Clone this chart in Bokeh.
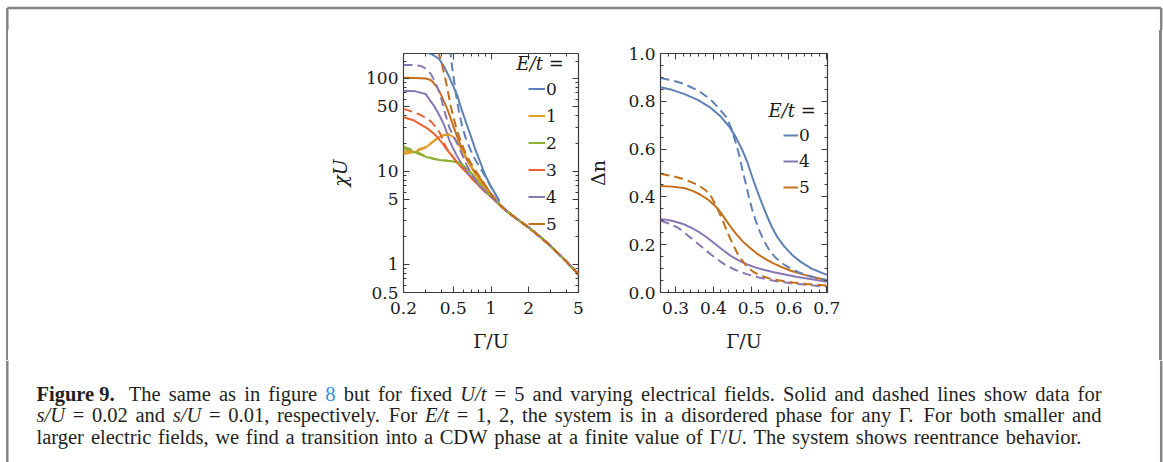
from bokeh.plotting import figure
from bokeh.layouts import column, row
from bokeh.models import (Range1d, FixedTicker, LogAxis, LinearAxis, Legend, LegendItem,
                          Label, CustomJSTickFormatter, PrintfTickFormatter, Div)
from bokeh.core.properties import value
from bokeh.embed import file_html
from bokeh.resources import INLINE

# ---------------- data: panel (a)  chi*U vs Gamma/U (log-log) ----------------
E_LABELS = ["0", "1", "2", "3", "4", "5"]
COLORS = ["#5E81B5", "#E19C24", "#8FB032", "#EB6235", "#8778B3", "#C56E1A"]

TAIL_G = [1.15, 1.3, 1.6, 2.0, 2.5, 3.0, 4.0, 5.0]
TAIL_C = [4.5, 3.85, 3.1, 2.5, 1.95, 1.58, 1.08, 0.78]

a_E0_s_g = [0.27, 0.30, 0.34, 0.383, 0.42, 0.46, 0.50, 0.537, 0.58, 0.625, 0.69, 0.752, 0.82, 0.9, 1.0, 1.15]
a_E0_s_c = [205, 192, 180, 163, 135, 106, 82, 66, 47, 35, 24, 17, 12.6, 9.1, 6.9, 5.0]
a_E0_d_g = [0.468, 0.475, 0.49, 0.505, 0.52, 0.537, 0.56, 0.59, 0.63, 0.686, 0.75, 0.824, 0.9, 1.0, 1.15]
a_E0_d_c = [210, 187, 130, 98, 73, 56, 41, 30, 22.5, 17, 13.3, 10.8, 8.8, 6.8, 4.95]

a_E1_s_g = [0.2, 0.25, 0.3, 0.34, 0.383, 0.42, 0.46, 0.50, 0.54, 0.59, 0.65, 0.71, 0.8, 0.9, 1.0]
a_E1_s_c = [15.4, 16.3, 18.0, 20.5, 23.2, 24.6, 25.0, 23.5, 20.5, 16.8, 13.2, 10.6, 8.2, 6.6, 5.6]
a_E1_d_g = [0.2, 0.25, 0.3, 0.34, 0.383, 0.42, 0.46, 0.50, 0.54, 0.59, 0.65, 0.71, 0.8, 0.9, 1.0]
a_E1_d_c = [16.2, 16.8, 18.3, 20.7, 23.3, 24.7, 25.1, 23.6, 20.6, 16.9, 13.3, 10.7, 8.2, 6.6, 5.6]

a_E2_s_g = [0.2, 0.23, 0.26, 0.3, 0.35, 0.4, 0.45, 0.5, 0.55, 0.6, 0.65, 0.7, 0.8, 0.9, 1.0]
a_E2_s_c = [17.5, 16.6, 15.6, 14.4, 13.6, 13.2, 13.0, 12.8, 12.4, 11.6, 10.5, 9.5, 7.6, 6.2, 5.4]
a_E2_d_g = [0.2, 0.23, 0.26, 0.3, 0.35, 0.4, 0.45, 0.5, 0.55, 0.6, 0.65, 0.7, 0.8, 0.9, 1.0]
a_E2_d_c = [18.5, 17.2, 16.0, 14.6, 13.7, 13.3, 13.0, 12.8, 12.4, 11.6, 10.5, 9.5, 7.6, 6.2, 5.4]

a_E3_s_g = [0.2, 0.24, 0.273, 0.31, 0.34, 0.372, 0.41, 0.446, 0.49, 0.537, 0.59, 0.644, 0.7, 0.77, 0.85, 0.9, 1.0]
a_E3_s_c = [38.2, 35.5, 32.1, 29.0, 26.3, 23.4, 20.0, 17.0, 14.6, 12.4, 10.9, 9.6, 8.5, 7.4, 6.5, 6.0, 5.35]
a_E3_d_g = [0.2, 0.24, 0.273, 0.3, 0.329, 0.36, 0.39, 0.42, 0.446, 0.49, 0.537, 0.59, 0.644, 0.7, 0.77, 0.85, 0.9, 1.0]
a_E3_d_c = [47.0, 43.5, 40.6, 37.5, 34.7, 30.5, 26.0, 20.5, 17.3, 14.7, 12.4, 10.9, 9.6, 8.5, 7.4, 6.5, 6.0, 5.35]

a_E4_s_g = [0.2, 0.25, 0.3, 0.329, 0.35, 0.372, 0.395, 0.42, 0.44, 0.465, 0.5, 0.537, 0.59, 0.644, 0.7, 0.77, 0.85, 0.9, 1.0]
a_E4_s_c = [73.7, 72.5, 68.0, 57.0, 51.0, 44.0, 38.0, 32.0, 27.0, 21.6, 17.5, 14.5, 11.8, 9.8, 8.6, 7.6, 6.6, 6.1, 5.4]
a_E4_d_g = [0.2, 0.25, 0.28, 0.309, 0.33, 0.349, 0.37, 0.395, 0.415, 0.433, 0.465, 0.5, 0.537, 0.59, 0.644, 0.7, 0.77, 0.85, 0.9, 1.0]
a_E4_d_c = [139.6, 139.0, 135.0, 124.0, 112.0, 97.5, 82.0, 65.6, 50.0, 40.6, 29.6, 24.0, 20.0, 15.0, 11.5, 9.3, 7.7, 6.6, 6.1, 5.4]

a_E5_s_g = [0.2, 0.25, 0.3, 0.33, 0.349, 0.372, 0.395, 0.42, 0.446, 0.475, 0.505, 0.545, 0.59, 0.64, 0.686, 0.75, 0.824, 0.9, 1.0]
a_E5_s_c = [101.5, 101.0, 99.5, 96.0, 89.0, 80.0, 68.5, 57.0, 47.6, 37.5, 29.6, 22.5, 17.0, 13.5, 11.5, 9.7, 8.3, 7.0, 5.75]
a_E5_d_g = [0.378, 0.383, 0.40, 0.415, 0.433, 0.455, 0.475, 0.505, 0.537, 0.58, 0.625, 0.69, 0.752, 0.824, 0.9, 1.0]
a_E5_d_c = [200, 184, 155, 124, 97.6, 70, 51.5, 36.5, 27.3, 20.3, 15.7, 12.3, 10.2, 8.5, 7.1, 5.8]

A_SOLID = [(a_E0_s_g, a_E0_s_c), (a_E1_s_g, a_E1_s_c), (a_E2_s_g, a_E2_s_c),
           (a_E3_s_g, a_E3_s_c), (a_E4_s_g, a_E4_s_c), (a_E5_s_g, a_E5_s_c)]
A_DASH = [(a_E0_d_g, a_E0_d_c), (a_E1_d_g, a_E1_d_c), (a_E2_d_g, a_E2_d_c),
          (a_E3_d_g, a_E3_d_c), (a_E4_d_g, a_E4_d_c), (a_E5_d_g, a_E5_d_c)]

# ---------------- data: panel (b)  Delta n vs Gamma/U ----------------
B_LABELS = ["0", "4", "5"]
B_COLORS = ["#5E81B5", "#8778B3", "#C56E1A"]

b_E0_s_g = [0.26, 0.29, 0.322, 0.36, 0.391, 0.42, 0.443, 0.46, 0.477, 0.49, 0.503, 0.516, 0.529, 0.542, 0.555, 0.57, 0.589, 0.61, 0.632, 0.66, 0.70]
b_E0_s_n = [0.859, 0.848, 0.831, 0.805, 0.775, 0.735, 0.692, 0.648, 0.594, 0.545, 0.482, 0.425, 0.371, 0.320, 0.273, 0.23, 0.190, 0.155, 0.127, 0.10, 0.074]
b_E0_d_g = [0.26, 0.29, 0.322, 0.36, 0.391, 0.415, 0.434, 0.448, 0.460, 0.470, 0.477, 0.486, 0.494, 0.503, 0.512, 0.522, 0.533, 0.548, 0.563, 0.58, 0.598, 0.625, 0.65, 0.68, 0.703]
b_E0_d_n = [0.897, 0.888, 0.873, 0.845, 0.810, 0.770, 0.734, 0.685, 0.622, 0.565, 0.510, 0.455, 0.399, 0.345, 0.301, 0.258, 0.218, 0.178, 0.148, 0.124, 0.106, 0.085, 0.071, 0.058, 0.05]

b_E4_s_g = [0.26, 0.29, 0.318, 0.34, 0.361, 0.383, 0.404, 0.425, 0.447, 0.468, 0.49, 0.51, 0.533, 0.56, 0.59, 0.619, 0.66, 0.70]
b_E4_s_n = [0.308, 0.300, 0.288, 0.272, 0.254, 0.230, 0.204, 0.178, 0.152, 0.133, 0.117, 0.105, 0.095, 0.085, 0.075, 0.066, 0.055, 0.045]
b_E4_d_g = [0.26, 0.28, 0.305, 0.326, 0.348, 0.37, 0.391, 0.412, 0.434, 0.46, 0.486, 0.515, 0.546, 0.58, 0.624, 0.66, 0.70]
b_E4_d_n = [0.30, 0.29, 0.272, 0.247, 0.218, 0.19, 0.162, 0.137, 0.113, 0.093, 0.078, 0.065, 0.053, 0.044, 0.036, 0.030, 0.024]

b_E5_s_g = [0.26, 0.29, 0.322, 0.345, 0.365, 0.388, 0.408, 0.42, 0.434, 0.447, 0.46, 0.477, 0.494, 0.515, 0.537, 0.559, 0.581, 0.605, 0.632, 0.665, 0.70]
b_E5_s_n = [0.446, 0.443, 0.437, 0.425, 0.410, 0.386, 0.357, 0.333, 0.301, 0.272, 0.245, 0.215, 0.190, 0.163, 0.141, 0.122, 0.106, 0.091, 0.078, 0.064, 0.052]
b_E5_d_g = [0.26, 0.29, 0.318, 0.34, 0.361, 0.38, 0.395, 0.408, 0.421, 0.432, 0.443, 0.454, 0.464, 0.477, 0.490, 0.507, 0.524, 0.55, 0.576, 0.61, 0.645, 0.70]
b_E5_d_n = [0.497, 0.488, 0.476, 0.463, 0.448, 0.427, 0.399, 0.36, 0.315, 0.272, 0.231, 0.195, 0.162, 0.132, 0.106, 0.085, 0.071, 0.058, 0.050, 0.042, 0.036, 0.029]

B_SOLID = [(b_E0_s_g, b_E0_s_n), (b_E4_s_g, b_E4_s_n), (b_E5_s_g, b_E5_s_n)]
B_DASH = [(b_E0_d_g, b_E0_d_n), (b_E4_d_g, b_E4_d_n), (b_E5_d_g, b_E5_d_n)]

A_XTICKS = [0.2, 0.5, 1, 2, 5]
A_XMINOR = [0.3, 0.4, 0.6, 0.7, 0.8, 0.9, 3, 4]
A_YTICKS = [0.5, 1, 5, 10, 50, 100]
A_YMINOR = [0.6, 0.7, 0.8, 0.9, 2, 3, 4, 6, 7, 8, 9, 20, 30, 40, 60, 70, 80, 90, 150]
B_XTICKS = [0.3, 0.4, 0.5, 0.6, 0.7]
B_YTICKS = [0.0, 0.2, 0.4, 0.6, 0.8, 1.0]

# ---------------- caption text (words; style n=normal, i=italic, b=bold, c=blue link) ----------------
CAP_HEAD = "Figure 9."
CAP_L1 = [("The", "n"), ("same", "n"), ("as", "n"), ("in", "n"), ("figure", "n"), ("8", "c"),
          ("but", "n"), ("for", "n"), ("fixed", "n"), ("U/t", "i"), ("=", "n"), ("5", "n"),
          ("and", "n"), ("varying", "n"), ("electrical", "n"), ("fields.", "n"), ("Solid", "n"),
          ("and", "n"), ("dashed", "n"), ("lines", "n"), ("show", "n"), ("data", "n"), ("for", "n")]
CAP_L2 = [("s/U", "i"), ("=", "n"), ("0.02", "n"), ("and", "n"), ("s/U", "i"), ("=", "n"),
          ("0.01,", "n"), ("respectively.", "n"), ("For", "n"), ("E/t", "i"), ("=", "n"),
          ("1,", "n"), ("2,", "n"), ("the", "n"), ("system", "n"), ("is", "n"), ("in", "n"),
          ("a", "n"), ("disordered", "n"), ("phase", "n"), ("for", "n"), ("any", "n"), ("Γ.", "n"),
          ("For", "n"), ("both", "n"), ("smaller", "n"), ("and", "n")]
CAP_L3 = [("larger", "n"), ("electric", "n"), ("fields,", "n"), ("we", "n"), ("find", "n"),
          ("a", "n"), ("transition", "n"), ("into", "n"), ("a", "n"), ("CDW", "n"), ("phase", "n"),
          ("at", "n"), ("a", "n"), ("finite", "n"), ("value", "n"), ("of", "n"), ("Γ/", "n"),
          ("+U", "i"), ("+.", "n"), ("The", "n"), ("system", "n"), ("shows", "n"),
          ("reentrance", "n"), ("behavior.", "n")]

SERIF = "'DejaVu Serif'"
FRAME = "#3a3a3a"
LW = 2.0
DASH = "9 5"
TXT = "#1a1a1a"


def style_axis(ax, show_labels=True, standoff=6):
    ax.axis_line_color = None
    ax.major_tick_in = 6
    ax.major_tick_out = 0
    ax.minor_tick_in = 3
    ax.minor_tick_out = 0
    ax.major_tick_line_color = FRAME
    ax.minor_tick_line_color = FRAME
    ax.major_label_text_font = SERIF
    ax.major_label_text_font_size = "17px"
    ax.major_label_text_color = TXT
    ax.major_label_standoff = standoff
    if not show_labels:
        ax.formatter = CustomJSTickFormatter(code="return ''")
        ax.major_label_standoff = 0
        ax.major_label_text_font_size = "1px"


def style_fig(p):
    p.outline_line_color = FRAME
    p.outline_line_width = 1.2
    p.xgrid.visible = False
    p.ygrid.visible = False
    p.background_fill_color = "white"
    p.border_fill_color = "white"


def style_axis_label(ax, standoff, italic=False):
    ax.axis_label_text_font = SERIF
    ax.axis_label_text_font_size = "19px"
    ax.axis_label_text_font_style = "italic" if italic else "normal"
    ax.axis_label_text_color = TXT
    ax.axis_label_standoff = standoff


# ---------------- panel (a) ----------------
pa = figure(width=564, height=330, x_axis_type="log", y_axis_type="log",
            x_range=Range1d(0.2, 5), y_range=Range1d(0.5, 185),
            min_border_left=383, min_border_right=6, min_border_top=16, min_border_bottom=68,
            toolbar_location=None, output_backend="svg")
style_fig(pa)
pa.xaxis.ticker = FixedTicker(ticks=A_XTICKS, minor_ticks=A_XMINOR)
pa.yaxis.ticker = FixedTicker(ticks=A_YTICKS, minor_ticks=A_YMINOR)
pa.xaxis.formatter = CustomJSTickFormatter(code="return String(tick)")
pa.yaxis.formatter = CustomJSTickFormatter(code="return String(tick)")
style_axis(pa.xaxis[0], standoff=9)
style_axis(pa.yaxis[0], standoff=5)
pa.xaxis.axis_label = "Γ/U"
pa.yaxis.axis_label = "χU"
style_axis_label(pa.xaxis[0], 13)
style_axis_label(pa.yaxis[0], 12, italic=True)

top_a = LogAxis(ticker=FixedTicker(ticks=A_XTICKS, minor_ticks=A_XMINOR))
style_axis(top_a, show_labels=False)
pa.add_layout(top_a, "above")
right_a = LogAxis(ticker=FixedTicker(ticks=A_YTICKS, minor_ticks=A_YMINOR))
style_axis(right_a, show_labels=False)
pa.add_layout(right_a, "right")

solid_a = []
for (g, c), col in zip(A_SOLID, COLORS):
    solid_a.append(pa.line(g + TAIL_G, c + TAIL_C, line_color=col, line_width=LW))
for (g, c), col in zip(A_DASH, COLORS):
    pa.line(g + TAIL_G, c + TAIL_C, line_color=col, line_width=LW, line_dash=DASH)

leg_a = Legend(items=[LegendItem(label=lab, renderers=[r]) for lab, r in zip(E_LABELS, solid_a)],
               location=(125, 55), orientation="vertical", padding=0, margin=0, spacing=0,
               glyph_height=27, glyph_width=17, label_height=27, label_standoff=1,
               label_text_font=SERIF, label_text_font_size="17px", label_text_color=TXT,
               background_fill_alpha=0, border_line_color=None)
pa.add_layout(leg_a)
pa.add_layout(Label(x=113, y=229, x_units="screen", y_units="screen", text="E/t =",
                    text_font=SERIF, text_font_size="18px", text_font_style="italic",
                    text_color=TXT, text_baseline="middle"))
pa.add_layout(Label(x=-77, y=247, x_units="screen", y_units="screen", text="(a)",
                    text_font=SERIF, text_font_size="16px", text_color=TXT,
                    text_baseline="middle"))

# ---------------- panel (b) ----------------
pb = figure(width=559, height=330, x_range=Range1d(0.26, 0.702), y_range=Range1d(0, 1),
            min_border_left=72, min_border_right=316, min_border_top=23, min_border_bottom=68,
            toolbar_location=None, output_backend="svg")
style_fig(pb)
bx_minor = [round(0.26 + 0.02 * i, 2) for i in range(23) if round(0.26 + 0.02 * i, 2) not in B_XTICKS]
by_minor = [round(0.05 * i, 2) for i in range(21) if i % 4 != 0]
pb.xaxis.ticker = FixedTicker(ticks=B_XTICKS, minor_ticks=bx_minor)
pb.yaxis.ticker = FixedTicker(ticks=B_YTICKS, minor_ticks=by_minor)
pb.xaxis.formatter = PrintfTickFormatter(format="%.1f")
pb.yaxis.formatter = PrintfTickFormatter(format="%.1f")
style_axis(pb.xaxis[0], standoff=9)
style_axis(pb.yaxis[0], standoff=5)
pb.xaxis.axis_label = "Γ/U"
pb.yaxis.axis_label = "Δn"
style_axis_label(pb.xaxis[0], 13)
style_axis_label(pb.yaxis[0], 16)
top_b = LinearAxis(ticker=FixedTicker(ticks=B_XTICKS, minor_ticks=bx_minor))
style_axis(top_b, show_labels=False)
pb.add_layout(top_b, "above")
right_b = LinearAxis(ticker=FixedTicker(ticks=B_YTICKS, minor_ticks=by_minor))
style_axis(right_b, show_labels=False)
pb.add_layout(right_b, "right")

solid_b = []
for (g, n), col in zip(B_SOLID, B_COLORS):
    solid_b.append(pb.line(g, n, line_color=col, line_width=LW))
for (g, n), col in zip(B_DASH, B_COLORS):
    pb.line(g, n, line_color=col, line_width=LW, line_dash=DASH)

leg_b = Legend(items=[LegendItem(label=lab, renderers=[r]) for lab, r in zip(B_LABELS, solid_b)],
               location=(123, 92), orientation="vertical", padding=0, margin=0, spacing=0,
               glyph_height=26, glyph_width=15, label_height=26, label_standoff=1,
               label_text_font=SERIF, label_text_font_size="17px", label_text_color=TXT,
               background_fill_alpha=0, border_line_color=None)
pb.add_layout(leg_b)
pb.add_layout(Label(x=108, y=182, x_units="screen", y_units="screen", text="E/t =",
                    text_font=SERIF, text_font_size="18px", text_font_style="italic",
                    text_color=TXT, text_baseline="middle"))
pb.add_layout(Label(x=-71, y=247, x_units="screen", y_units="screen", text="(b)",
                    text_font=SERIF, text_font_size="16px", text_color=TXT,
                    text_baseline="middle"))

# ---------------- page frame (border) and caption ----------------
BORDER = "#858585"
BW = 2.5


def blank(w, h, xr, yr, **kw):
    f = figure(width=w, height=h, x_range=Range1d(*xr), y_range=Range1d(*yr),
               x_axis_location=None, y_axis_location=None,
               toolbar_location=None, output_backend="svg", **kw)
    f.outline_line_color = None
    f.xgrid.visible = False
    f.ygrid.visible = False
    return f


top_strip = blank(1163, 30, (0, 1163), (30, 0), min_border=0)
top_strip.segment(x0=[6.8, 6.8, 1160.7], y0=[7.5, 7.5, 7.5], x1=[1160.7, 6.8, 1160.7], y1=[7.5, 30, 30],
                  line_color=BORDER, line_width=BW)
left_strip = Div(text="", width=20, height=330, margin=0,
                 styles={"background": f"linear-gradient(90deg, #fff 5.6px, {BORDER} 5.6px, "
                                       f"{BORDER} 8.1px, #fff 8.1px)"})
right_strip = Div(text="", width=20, height=330, margin=0,
                  styles={"background": f"linear-gradient(90deg, #fff 16.4px, {BORDER} 16.4px, "
                                        f"{BORDER} 18.9px, #fff 18.9px)"})

cap = blank(1163, 102, (0, 1163), (462, 360), min_border=0)
cap.segment(x0=[6.8, 1160.7], y0=[360, 360], x1=[6.8, 1160.7], y1=[462, 462],
            line_color=BORDER, line_width=BW)

CAP_FONT = "Liberation Serif"
CAP_PX = 20.5
CAP_COLOR = "#231f20"
LINK_COLOR = "#2f92d6"

# Times / Liberation Serif advance widths (1/1000 em) used to space the justified words
REG = dict(zip("abcdefghijklmnopqrstuvwxyz", [444, 500, 444, 500, 444, 333, 500, 500, 278, 278, 500, 278, 778,
                                              500, 500, 500, 500, 333, 389, 278, 500, 500, 722, 500, 500, 444]))
REG.update({" ": 250, ",": 250, ".": 250, "/": 278, "=": 564, "Γ": 578, "C": 667, "D": 722, "E": 611,
            "F": 556, "S": 556, "T": 611, "U": 722, "W": 944})
REG.update({d: 500 for d in "0123456789"})
ITA = dict(REG)
ITA.update({"s": 389, "t": 278, "U": 722, "E": 611, "/": 278})
BLD = dict(REG)
BLD.update({"F": 611, "u": 556, "r": 444, "e": 444})


def tw(s, st):
    tab = ITA if st == "i" else (BLD if st == "b" else REG)
    return sum(tab.get(ch, 500) for ch in s) / 1000.0 * CAP_PX


groups = {"n": ([], [], []), "i": ([], [], []), "b": ([], [], []), "c": ([], [], [])}


def lay_line(tokens, x0, x1, y):
    words = [(t[1:] if t.startswith("+") else t, st, t.startswith("+")) for t, st in tokens]
    gaps = sum(1 for w in words[1:] if not w[2])
    natural = sum(tw(w, st) for w, st, _ in words) + gaps * 0.25 * CAP_PX
    extra = (x1 - x0 - natural) / gaps
    x = x0
    for k, (w, st, glue) in enumerate(words):
        if k > 0 and not glue:
            x += 0.25 * CAP_PX + extra
        gx, gy, gt = groups[st]
        gx.append(x)
        gy.append(y)
        gt.append(w)
        x += tw(w, st)


L1Y, L2Y, L3Y = 393.5, 414.5, 436.0
groups["b"][0].append(36.0)
groups["b"][1].append(L1Y)
groups["b"][2].append(CAP_HEAD)
lay_line(CAP_L1, 128.3, 1101.0, L1Y)
lay_line(CAP_L2, 36.0, 1101.0, L2Y)
lay_line(CAP_L3, 36.0, 1082.0, L3Y)

for st, (gx, gy, gt) in groups.items():
    cap.text(x=gx, y=gy, text=gt, text_font=value(CAP_FONT), text_font_size=value(f"{CAP_PX}px"),
             text_font_style={"n": "normal", "i": "italic", "b": "bold", "c": "normal"}[st],
             text_color=LINK_COLOR if st == "c" else CAP_COLOR, text_baseline="alphabetic")

layout = column(top_strip, row(left_strip, pa, pb, right_strip), cap)
open("out.html", "w").write(file_html(layout, INLINE))
